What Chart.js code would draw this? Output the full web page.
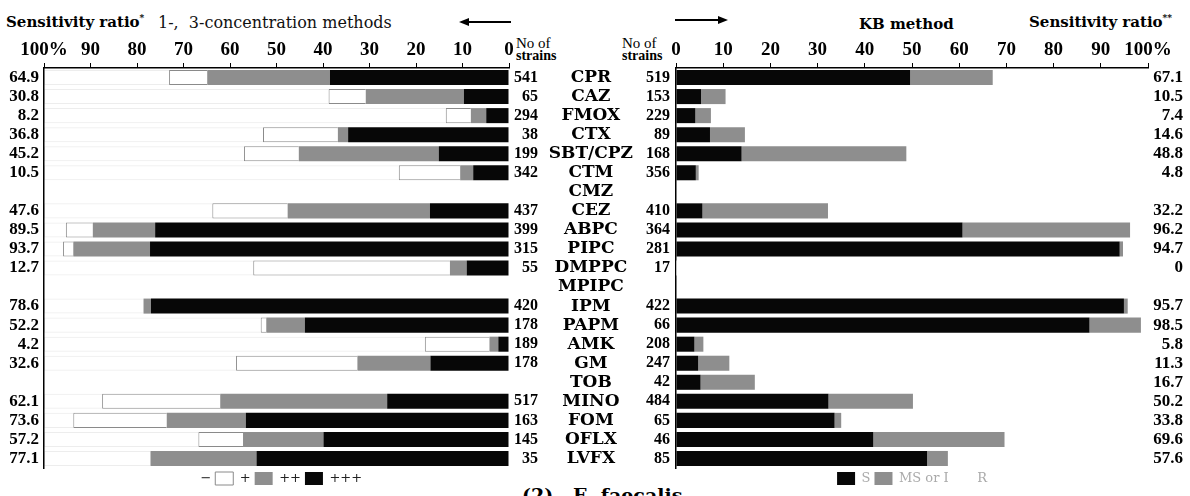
<!DOCTYPE html>
<html>
<head>
<meta charset="utf-8">
<script src="https://cdn.jsdelivr.net/npm/chart.js@4.4.0/dist/chart.umd.min.js"></script>
<style>
  html, body { margin: 0; padding: 0; background: #fff; }
  body { width: 1190px; height: 496px; position: relative; overflow: hidden; font-family: "DejaVu Serif", serif; color: #000; }
  .abs { position: absolute; white-space: nowrap; }
  .head { font-weight: bold; font-size: 15px; }
  .nos { font-family: "Liberation Serif", serif; font-size: 15px; line-height: 12px; }
  .nos b { font-size: 14px; }
  .arrow { position: absolute; height: 2px; background: #000; }
  .arrow.l::before { content: ""; position: absolute; left: -9px; top: -3px; border-right: 10px solid #000; border-top: 4px solid transparent; border-bottom: 4px solid transparent; }
  .arrow.r::after { content: ""; position: absolute; right: -9px; top: -3px; border-left: 10px solid #000; border-top: 4px solid transparent; border-bottom: 4px solid transparent; }
  #cL { position: absolute; left: 0; top: 0; }
  #cR { position: absolute; left: 540px; top: 0; }
</style>
</head>
<body>
<div class="abs head" style="left:6px; top:13px;">Sensitivity ratio<sup style="font-size:9px;">*</sup></div>
<div class="abs" style="left:158px; top:13px; font-size:16px; color:#111;">1-,&nbsp; 3-concentration methods</div>
<div class="arrow l" style="left:468px; top:21px; width:43px;"></div>
<div class="abs nos" style="left:516px; top:37px;">No of<br><b>strains</b></div>
<div class="abs nos" style="left:622px; top:37px;">No of<br><b>strains</b></div>
<div class="arrow r" style="left:675px; top:19px; width:44px;"></div>
<div class="abs head" style="left:859px; top:15px;">KB method</div>
<div class="abs head" style="left:1029px; top:13px;">Sensitivity ratio<sup style="font-size:9px;">**</sup></div>
<div class="abs" style="left:522px; top:484px; font-size:19px; font-weight:bold;">(2)&nbsp;&nbsp; E. faecalis</div>

<canvas id="cL" width="538" height="495"></canvas>
<canvas id="cR" width="650" height="495"></canvas>

<script>
const drugs = ['CPR', 'CAZ', 'FMOX', 'CTX', 'SBT/CPZ', 'CTM', 'CMZ', 'CEZ', 'ABPC', 'PIPC', 'DMPPC',
  'MPIPC', 'IPM', 'PAPM', 'AMK', 'GM', 'TOB', 'MINO', 'FOM', 'OFLX', 'LVFX'];

// 1-, 3-concentration methods (left panel)
const strainsL = ['541', '65', '294', '38', '199', '342', '', '437', '399', '315', '55',
  '', '420', '178', '189', '178', '', '517', '163', '145', '35'];
const sensL = ['64.9', '30.8', '8.2', '36.8', '45.2', '10.5', '', '47.6', '89.5', '93.7', '12.7',
  '', '78.6', '52.2', '4.2', '32.6', '', '62.1', '73.6', '57.2', '77.1'];
const plus3L = [38.5, 9.7, 4.9, 34.6, 15.1, 7.7, null, 17.0, 76.1, 77.2, 9.1,
  null, 77.0, 43.9, 2.3, 16.9, null, 26.2, 56.6, 39.9, 54.3];
const plus2L = [26.4, 21.1, 3.3, 2.2, 30.1, 2.8, null, 30.6, 13.4, 16.5, 3.6,
  null, 1.6, 8.3, 1.9, 15.7, null, 35.9, 17.0, 17.3, 22.8];
const plus1L = [8.2, 8.0, 5.4, 16.1, 11.8, 13.2, null, 16.2, 5.8, 2.2, 42.3,
  null, 0, 1.2, 13.9, 26.1, null, 25.4, 20.1, 9.6, 0];
const minusL = [26.9, 61.2, 86.4, 47.1, 43.0, 76.3, null, 36.2, 4.7, 4.1, 45.0,
  null, 21.4, 46.6, 81.9, 41.3, null, 12.5, 6.3, 33.2, 22.9];

// KB method (right panel)
const strainsR = ['519', '153', '229', '89', '168', '356', '', '410', '364', '281', '17',
  '', '422', '66', '208', '247', '42', '484', '65', '46', '85'];
const sensR = ['67.1', '10.5', '7.4', '14.6', '48.8', '4.8', '', '32.2', '96.2', '94.7', '0',
  '', '95.7', '98.5', '5.8', '11.3', '16.7', '50.2', '33.8', '69.6', '57.6'];
const susR = [49.6, 5.3, 4.1, 7.2, 13.9, 4.2, null, 5.6, 60.7, 94.0, 0,
  null, 94.9, 87.6, 3.9, 4.7, 5.2, 32.3, 33.6, 41.8, 53.2];
const msR = [17.5, 5.2, 3.3, 7.4, 34.9, 0.6, null, 26.6, 35.5, 0.7, 0,
  null, 0.8, 10.9, 1.9, 6.6, 11.5, 17.9, 1.4, 27.8, 4.4];
const resR = [32.9, 89.5, 92.6, 85.4, 51.2, 95.2, null, 67.8, 3.8, 5.3, 100,
  null, 4.3, 1.5, 94.2, 88.7, 83.3, 49.8, 65.0, 30.4, 42.4];

const xTickLabels = ['0', '10', '20', '30', '40', '50', '60', '70', '80', '90', '100%'];

const BLACK = '#070707';
const GRAY = '#8e8e8e';
const numFont = { family: '"Liberation Serif", serif', size: 17, weight: 'bold' };

function xAxis(reverse) {
  return {
    type: 'linear', position: 'top', reverse: reverse, min: 0, max: 100, stacked: true,
    afterFit: (s) => { s.height = 62; },
    ticks: {
      stepSize: 10, autoSkip: false, maxRotation: 0, padding: 2, color: '#000',
      font: { family: '"Liberation Serif", serif', size: 19, weight: 'bold' },
      callback: (v) => xTickLabels[Math.round(v / 10)]
    },
    grid: { drawOnChartArea: false, drawTicks: true, tickLength: 5, color: '#000' },
    border: { display: true, color: '#000', width: 1.5 }
  };
}

const legendFont = { family: '"DejaVu Serif", serif', size: 13 };

new Chart(document.getElementById('cL'), {
  type: 'bar',
  data: {
    labels: drugs,
    datasets: [
      { label: '+++', data: plus3L, backgroundColor: BLACK, borderWidth: 0 },
      { label: '++', data: plus2L, backgroundColor: GRAY, borderWidth: 0 },
      { label: '+', data: plus1L, backgroundColor: '#fff', borderColor: '#8a8a8a', borderWidth: 1 },
      { label: '−', data: minusL, backgroundColor: 'rgba(0,0,0,0)', borderColor: 'rgba(0,0,0,0.07)', borderWidth: 1 }
    ]
  },
  options: {
    indexAxis: 'y', responsive: false, animation: false,
    datasets: { bar: { barPercentage: 0.79, categoryPercentage: 1 } },
    layout: { padding: { top: 6 } },
    scales: {
      x: xAxis(true),
      y: {
        type: 'category', position: 'left', stacked: true,
        afterFit: (s) => { s.width = 44; },
        grid: { display: false, drawTicks: false },
        border: { display: true, color: '#000', width: 1.5 },
        ticks: { autoSkip: false, padding: 5, color: '#000', font: numFont, callback: (v, i) => sensL[i] }
      },
      yN: {
        type: 'category', position: 'right',
        afterFit: (s) => { s.width = 29; },
        grid: { display: false, drawTicks: false },
        border: { display: false },
        ticks: { autoSkip: false, padding: 0, crossAlign: 'far', color: '#000', font: { ...numFont, size: 16 }, callback: (v, i) => strainsL[i] }
      }
    },
    plugins: {
      tooltip: { enabled: false },
      legend: {
        position: 'bottom', fullSize: true, reverse: true,
        labels: {
          boxWidth: 18, boxHeight: 13, padding: 4, color: '#222', font: legendFont,
          generateLabels: (chart) => {
            const items = Chart.defaults.plugins.legend.labels.generateLabels(chart);
            items.forEach((it) => { if (it.text === '−') it.strokeStyle = 'rgba(0,0,0,0)'; });
            return items;
          }
        }
      }
    }
  }
});

new Chart(document.getElementById('cR'), {
  type: 'bar',
  data: {
    labels: drugs,
    datasets: [
      { label: 'S', data: susR, backgroundColor: BLACK, borderWidth: 0 },
      { label: 'MS or I', data: msR, backgroundColor: GRAY, borderWidth: 0 },
      { label: 'R', data: resR, backgroundColor: '#fff', borderWidth: 0 }
    ]
  },
  options: {
    indexAxis: 'y', responsive: false, animation: false,
    datasets: { bar: { barPercentage: 0.79, categoryPercentage: 1 } },
    layout: { padding: { top: 6, right: 7 } },
    scales: {
      x: xAxis(false),
      y: {
        type: 'category', position: 'left', stacked: true, weight: 0,
        afterFit: (s) => { s.width = 40; },
        grid: { display: false, drawTicks: false },
        border: { display: true, color: '#000', width: 1.5 },
        ticks: { autoSkip: false, padding: 6, color: '#000', font: { ...numFont, size: 16 }, callback: (v, i) => strainsR[i] }
      },
      yD: {
        type: 'category', position: 'left', weight: 1,
        afterFit: (s) => { s.width = 96; },
        grid: { display: false, drawTicks: false },
        border: { display: false },
        ticks: {
          autoSkip: false, padding: 3, crossAlign: 'center', color: '#000',
          font: { family: '"DejaVu Serif", serif', size: 17, weight: 'bold' },
          callback: (v, i) => drugs[i]
        }
      },
      yS: {
        type: 'category', position: 'right',
        afterFit: (s) => { s.width = 35; },
        grid: { display: false, drawTicks: false },
        border: { display: false },
        ticks: { autoSkip: false, padding: 0, crossAlign: 'far', color: '#000', font: numFont, callback: (v, i) => sensR[i] }
      }
    },
    plugins: {
      tooltip: { enabled: false },
      legend: {
        position: 'bottom', fullSize: false,
        labels: { boxWidth: 18, boxHeight: 13, padding: 4, color: '#aaa', font: legendFont }
      }
    }
  }
});
</script>
</body>
</html>
